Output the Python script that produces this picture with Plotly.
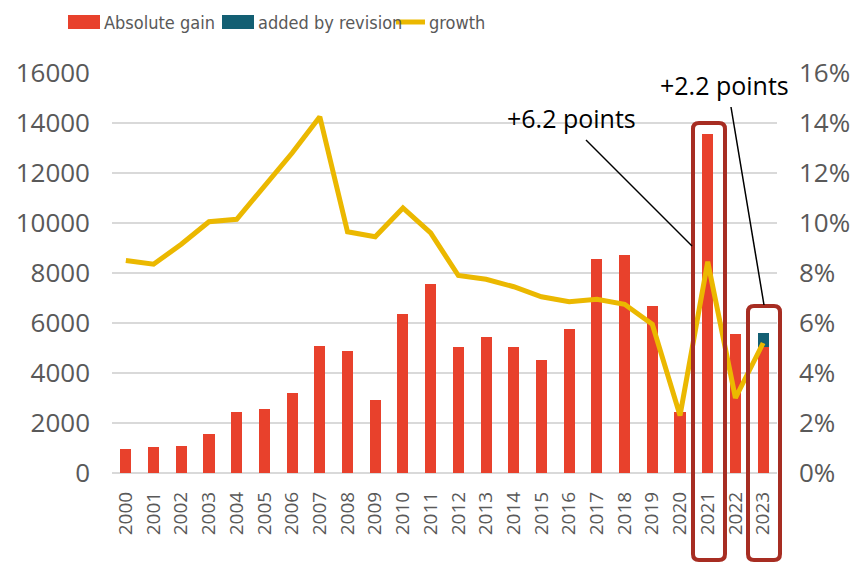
import plotly.graph_objects as go

years = list(range(2000, 2024))
year_labels = [str(y) for y in years]
absolute_gain = [960, 1060, 1090, 1560, 2440, 2550, 3200, 5070, 4900, 2920, 6360, 7570,
                 5050, 5430, 5050, 4520, 5750, 8550, 8720, 6700, 2450, 13560, 5550, 5050]
added_by_revision = [0] * 23 + [550]
growth_pct = [8.5, 8.35, 9.15, 10.05, 10.15, 11.45, 12.8, 14.25, 9.65, 9.45, 10.6, 9.6,
              7.9, 7.75, 7.45, 7.05, 6.85, 6.95, 6.75, 5.95, 2.3, 8.45, 3.0, 5.2]
growth = [g / 100 for g in growth_pct]

RED = '#E8412C'
TEAL = '#135F73'
GOLD = '#EBB800'
BOX = '#A72D22'
GREY = '#595959'
TICKFONT = 'Open Sans'
LEGFONT = 'DejaVu Sans Condensed, Liberation Sans Narrow'

# plot area in pixels
L, R, T, B = 112, 777, 73, 473
W, H = R - L, B - T


def p(x, y):
    return f'{(x - L) / W:.5f},{(B - y) / H:.5f}'


def rrect(x0, y0, x1, y1, r):
    return (f'M {p(x0 + r, y0)} L {p(x1 - r, y0)} Q {p(x1, y0)} {p(x1, y0 + r)} '
            f'L {p(x1, y1 - r)} Q {p(x1, y1)} {p(x1 - r, y1)} '
            f'L {p(x0 + r, y1)} Q {p(x0, y1)} {p(x0, y1 - r)} '
            f'L {p(x0, y0 + r)} Q {p(x0, y0)} {p(x0 + r, y0)} Z')


fig = go.Figure()
fig.add_trace(go.Bar(x=years, y=absolute_gain, name='Absolute gain', marker_color=RED,
                     marker_line_width=0, width=0.4))
fig.add_trace(go.Bar(x=years, y=added_by_revision, name='added by revision', marker_color=TEAL,
                     marker_line_width=0, width=0.4))
fig.add_trace(go.Scatter(x=years, y=growth, name='growth', yaxis='y2', mode='lines',
                         line=dict(color=GOLD, width=5)))

shapes = [
    dict(type='path', xref='paper', yref='paper', path=rrect(693, 123, 725, 560, 6),
         line=dict(color=BOX, width=4)),
    dict(type='path', xref='paper', yref='paper', path=rrect(748, 306, 780, 560, 6),
         line=dict(color=BOX, width=4)),
]
for x0, y0, x1, y1 in [(586, 140, 692, 246), (731, 107, 764, 305)]:
    shapes.append(dict(type='line', xref='paper', yref='paper',
                       x0=(x0 - L) / W, y0=(B - y0) / H, x1=(x1 - L) / W, y1=(B - y1) / H,
                       line=dict(color='black', width=1.5)))

# legend drawn by hand (swatches + text)
for x0, col in [(68, RED), (222, TEAL)]:
    shapes.append(dict(type='rect', xref='paper', yref='paper',
                       x0=(x0 - L) / W, x1=(x0 + 32 - L) / W,
                       y0=(B - 29) / H, y1=(B - 15) / H, fillcolor=col, line_width=0))
shapes.append(dict(type='line', xref='paper', yref='paper', x0=(396 - L) / W, x1=(425 - L) / W,
                   y0=(B - 22) / H, y1=(B - 22) / H, line=dict(color=GOLD, width=5)))

annotations = []
for x, text in [(102, 'Absolute gain'), (256, 'added by revision'), (427, 'growth')]:
    annotations.append(dict(xref='paper', yref='paper', x=(x - L) / W, y=(B - 22) / H,
                            text=text, showarrow=False, xanchor='left', yanchor='middle',
                            font=dict(family=LEGFONT, size=18, color=GREY)))
for x, y, text in [(571, 118, '+6.2 points'), (724, 85, '+2.2 points')]:
    annotations.append(dict(xref='paper', yref='paper', x=(x - L) / W, y=(B - y) / H,
                            text=text, showarrow=False, xanchor='center', yanchor='middle',
                            font=dict(family=TICKFONT, size=25, color='black')))

fig.update_layout(
    width=850, height=564,
    margin=dict(l=L, r=850 - R, t=T, b=564 - B),
    paper_bgcolor='white', plot_bgcolor='white',
    barmode='stack', showlegend=False,
    xaxis=dict(range=[1999.5, 2023.5], tickvals=years, ticktext=year_labels, tickangle=-90,
               showgrid=False, zeroline=False, showline=False, automargin=False,
               tickfont=dict(family=TICKFONT, size=19, color=GREY), ticklabelstandoff=14),
    yaxis=dict(range=[0, 16000], dtick=2000, tickformat='d', showgrid=True,
               gridcolor='#D9D9D9', gridwidth=2, automargin=False,
               zeroline=True, zerolinecolor='#D9D9D9', zerolinewidth=2,
               tickfont=dict(family=TICKFONT, size=26, color=GREY), ticklabelstandoff=21),
    yaxis2=dict(range=[0, 0.16], dtick=0.02, tickformat='.0%', overlaying='y', side='right',
                showgrid=False, zeroline=False, automargin=False,
                tickfont=dict(family=TICKFONT, size=26, color=GREY), ticklabelstandoff=21),
    shapes=shapes,
    annotations=annotations,
)

# the page has a default body margin; drop it so the figure sits at the window origin
fig.write_html('out.html', config={'displayModeBar': False},
               post_script="document.body.style.margin='0';")
